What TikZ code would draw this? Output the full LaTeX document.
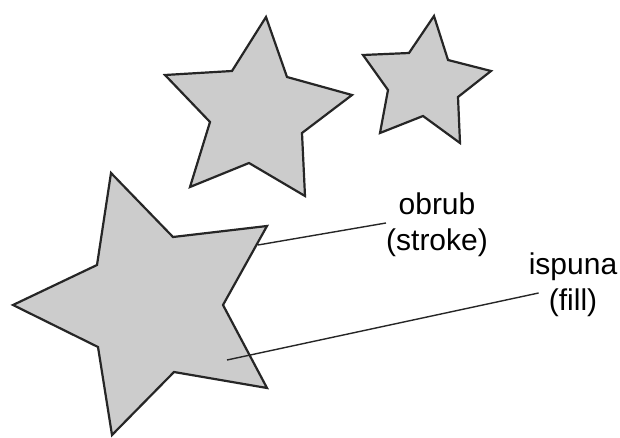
\documentclass[tikz,border=0pt]{standalone}
\usepackage{fontspec}
\setmainfont{Liberation Sans}
\begin{document}
\begin{tikzpicture}[x=1pt,y=-1pt,
  starshape/.style={draw=black!85,fill=black!20,line width=2.2pt,line join=miter},
  lbl/.style={align=center,font=\fontsize{30}{36}\selectfont,inner sep=1pt},
  leader/.style={draw=black!85,line width=1.4pt}]
\useasboundingbox (0,0) rectangle (620,438);
% big star
\draw[starshape] (111,173) -- (173,237) -- (267,226) -- (223,305) -- (267,388) -- (174,372) -- (112,435) -- (98,347) -- (13,305) -- (97,265) -- cycle;
% medium star
\draw[starshape] (266,17) -- (287,77) -- (352,95) -- (302,133) -- (305,196) -- (249,163) -- (190,187) -- (210,122) -- (165,75) -- (232,71) -- cycle;
% small star
\draw[starshape] (434,16) -- (448,60) -- (491,71) -- (458,97) -- (460,143) -- (423,116) -- (380,133) -- (388,90) -- (363,55) -- (409,53) -- cycle;
% labels
\node[lbl] (ls) at (437,225) {obrub\\(stroke)};
\node[lbl] (lf) at (573,285) {ispuna\\(fill)};
\coordinate (s1) at (258,245);
\coordinate (s2) at (227,360);
\draw[leader] (s1) -- ([xshift=1pt,yshift=2pt]ls.west);
\draw[leader] (s2) -- ([xshift=11pt,yshift=-8pt]lf.west);
\end{tikzpicture}
\end{document}
